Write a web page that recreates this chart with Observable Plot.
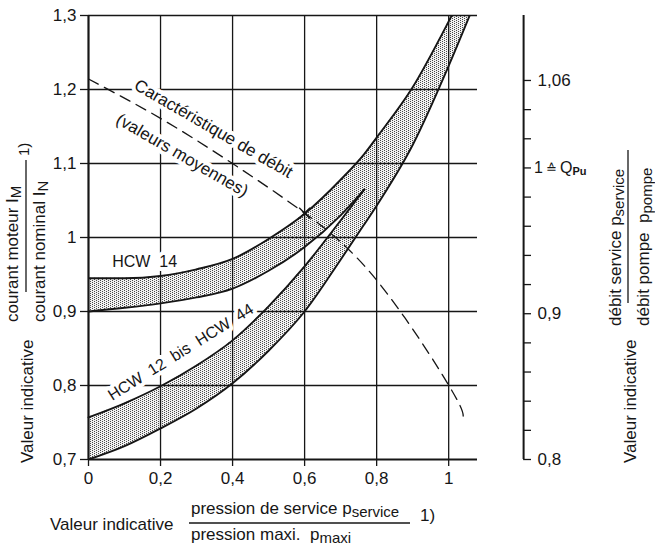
<!DOCTYPE html>
<html>
<head>
<meta charset="utf-8">
<script src="https://cdn.jsdelivr.net/npm/d3@7"></script>
<script src="https://cdn.jsdelivr.net/npm/@observablehq/plot@0.6"></script>
<style>
  html, body { margin: 0; padding: 0; background: #fff; }
  #chart svg { display: block; }
</style>
</head>
<body>
<div id="chart"></div>
<script>
// ---------- data ----------
const xs            = [0, 0.1, 0.2, 0.3, 0.4, 0.5, 0.6, 0.7, 0.766, 0.8, 0.9, 1.0, 1.06];
const hcw14Upper    = [0.945, 0.945, 0.948, 0.957, 0.971, 0.998, 1.032, 1.078, 1.113, 1.135, 1.203, 1.292, 1.35];
const hcw14Lower    = [0.900, 0.905, 0.911, 0.919, 0.931, 0.955, 0.987, 1.030, 1.065];
const hcw1244Upper  = [0.757, 0.776, 0.799, 0.827, 0.861, 0.907, 0.961, 1.023, 1.065];
const hcw1244Lower  = [0.700, 0.718, 0.742, 0.769, 0.803, 0.847, 0.900, 0.970, 1.018, 1.043, 1.125, 1.232, 1.302];
const flowX         = [0, 0.2, 0.4, 0.6, 0.8, 1.0, 1.04];
const flowQ         = [1.061, 1.034, 1.003, 0.969, 0.923, 0.851, 0.829];
const operatingPoint = [{x: 0.6, y: 1.033}];
const xTickValues   = [0, 0.2, 0.4, 0.6, 0.8, 1];
const yTickValues   = [0.7, 0.8, 0.9, 1, 1.1, 1.2, 1.3];
const flowTickValues = [0.8, 0.82, 0.84, 0.86, 0.88, 0.9, 0.92, 0.94, 0.96, 0.98, 1, 1.02, 1.04, 1.06];
const flowLabelValues = [0.8, 0.9, 1.06];

// ---------- helpers ----------
const FONT = "'Liberation Sans', Arial, Helvetica, sans-serif";
const INK = "#161616";
const fmt = d => String(+d.toFixed(2)).replace(".", ",");
const flowToY = q => 0.7 + 1.97 * (q - 0.8);   // right axis -> left axis units
const RIGHT_X = 1.208;

const bandRows  = xs.map((x, i) => ({x, upper: hcw14Upper[i], lower: hcw1244Lower[i]}));
const innerRows = xs.slice(0, hcw14Lower.length).map((x, i) => ({x, a: hcw14Lower[i], b: hcw1244Upper[i]}));
const flowRows  = flowX.map((x, i) => ({x, q: flowQ[i]}));

const plot = Plot.plot({
  width: 655,
  height: 552,
  marginLeft: 88,
  marginTop: 15,
  marginBottom: 93,
  marginRight: 178,
  x: {domain: [0, 1.08]},
  y: {domain: [0.7, 1.3]},
  style: {fontFamily: FONT, fontSize: "17px", color: INK, background: "white"},
  marks: [
    // shaded bands
    Plot.areaY(bandRows, {x: "x", y1: "lower", y2: "upper", fill: "url(#stipple)", curve: "monotone-x", clip: true}),
    Plot.areaY(innerRows, {x: "x", y1: "b", y2: "a", fill: "white", curve: "monotone-x"}),
    // grid
    Plot.ruleX([0.2, 0.4, 0.6, 0.8, 1], {stroke: INK, strokeWidth: 1.3}),
    Plot.ruleY([0.8, 0.9, 1, 1.1, 1.2, 1.3], {stroke: INK, strokeWidth: 1.3}),
    // annotations with white halo (break the grid behind them)
    Plot.text(["Caractéristique de débit"], {x: 0.347, y: 1.147, text: d => d, rotate: 30, fontSize: 17, fill: INK, stroke: "white", strokeWidth: 8}),
    Plot.text(["(valeurs moyennes)"], {x: 0.26, y: 1.111, text: d => d, rotate: 30, fontSize: 17, fill: INK, stroke: "white", strokeWidth: 8}),
    Plot.text(["HCW\u00a0\u00a014"], {x: 0.156, y: 0.967, text: d => d, fontSize: 16, fill: INK, stroke: "white", strokeWidth: 8}),
    Plot.text(["HCW\u00a0\u00a012\u00a0\u00a0bis\u00a0\u00a0HCW\u00a0\u00a044"], {x: 0.256, y: 0.845, text: d => d, rotate: -32, fontSize: 16, fill: INK, stroke: "white", strokeWidth: 8}),
    // band outlines
    Plot.line(bandRows, {x: "x", y: "upper", curve: "monotone-x", stroke: INK, strokeWidth: 1.9, clip: true}),
    Plot.line(bandRows, {x: "x", y: "lower", curve: "monotone-x", stroke: INK, strokeWidth: 1.9, clip: true}),
    Plot.line(innerRows, {x: "x", y: "a", curve: "monotone-x", stroke: INK, strokeWidth: 1.9}),
    Plot.line(innerRows, {x: "x", y: "b", curve: "monotone-x", stroke: INK, strokeWidth: 1.9}),
    // flow characteristic (right-axis values)
    Plot.line(flowRows, {x: "x", y: d => flowToY(d.q), curve: "natural", stroke: INK, strokeWidth: 1.3, strokeDasharray: "11,7"}),
    Plot.dot(operatingPoint, {x: "x", y: "y", symbol: "times", r: 5, stroke: INK, strokeWidth: 1.4}),
    // frame
    Plot.ruleX([0], {stroke: INK, strokeWidth: 2.2}),
    Plot.ruleY([0.7], {stroke: INK, strokeWidth: 2.2}),
    // axes
    Plot.axisX({ticks: xTickValues, tickFormat: fmt, tickSize: 7, tickPadding: 5, label: null, strokeWidth: 1.3, fontSize: 17}),
    Plot.axisY({ticks: yTickValues, tickFormat: fmt, tickSize: 8, tickPadding: 4, label: null, strokeWidth: 1.3, fontSize: 17}),
    // right axis (flow ratio)
    Plot.ruleX([RIGHT_X], {y1: flowToY(0.8), y2: 1.3, stroke: INK, strokeWidth: 2}),
    Plot.ruleY(flowTickValues, {y: d => flowToY(d), x1: RIGHT_X, x2: RIGHT_X + 0.022, stroke: INK, strokeWidth: 1.3}),
    Plot.text(flowLabelValues, {x: RIGHT_X, y: d => flowToY(d), text: d => fmt(d), textAnchor: "start", dx: 14, fontSize: 17, fill: INK})
  ]
});

document.getElementById("chart").appendChild(plot);

// ---------- pattern + composite labels ----------
const svg = d3.select(plot);
const defs = svg.insert("defs", ":first-child");
const pat = defs.append("pattern").attr("id", "stipple")
  .attr("patternUnits", "userSpaceOnUse").attr("width", 4).attr("height", 2);
pat.append("rect").attr("width", 4).attr("height", 2).attr("fill", "#f2f2f2");
pat.append("rect").attr("x", 0).attr("y", 0).attr("width", 1).attr("height", 1).attr("fill", "#4a4a4a");
pat.append("rect").attr("x", 2).attr("y", 1).attr("width", 1).attr("height", 1).attr("fill", "#4a4a4a");

const g = svg.append("g").attr("font-family", FONT).attr("fill", INK).attr("text-anchor", "start");

function label(px, py, rot, main, sub, size = 17) {
  const t = g.append("text")
    .attr("transform", `translate(${px},${py}) rotate(${rot})`)
    .attr("text-anchor", "start")
    .attr("font-size", size);
  t.append("tspan").text(main);
  if (sub) t.append("tspan").attr("font-size", 15).attr("dy", 3).text(sub);
  return t;
}
function bar(x1, y1, x2, y2) {
  g.append("line").attr("x1", x1).attr("y1", y1).attr("x2", x2).attr("y2", y2)
    .attr("stroke", INK).attr("stroke-width", 1.3);
}

// bottom label
label(50, 530, 0, "Valeur indicative");
label(191, 513.5, 0, "pression de service p", "service");
bar(189, 523, 410, 523);
label(191, 539.5, 0, "pression maxi.\u00a0\u00a0p", "maxi");
label(420, 521, 0, "1)");

// left label
label(33, 463, -90, "Valeur indicative");
label(18, 322, -90, "courant moteur I", "M");
bar(26, 292, 26, 160);
label(45, 322, -90, "courant nominal I", "N");
label(29, 156, -90, "1)", null, 15);

// right label
label(636, 463, -90, "Valeur indicative");
label(621, 326, -90, "débit service p", "service");
bar(628, 303, 628, 150);
label(649, 326, -90, "débit pompe\u00a0\u00a0p", "pompe");

// right-axis "1 ≙ Q_Pu"
const sx = plot.scale("x"), sy = plot.scale("y");
const qx = sx.apply(RIGHT_X) + 11, qy = sy.apply(flowToY(1)) + 6;
const tq = g.append("text").attr("x", qx).attr("y", qy).attr("font-size", 16).attr("text-anchor", "start");
tq.append("tspan").text("1");
tq.append("tspan").attr("dx", 3).attr("font-size", 13).text("≙");
tq.append("tspan").attr("dx", 3).text("Q");
tq.append("tspan").attr("font-size", 11).attr("font-weight", "bold").attr("dy", 2).text("Pu");
</script>
</body>
</html>
